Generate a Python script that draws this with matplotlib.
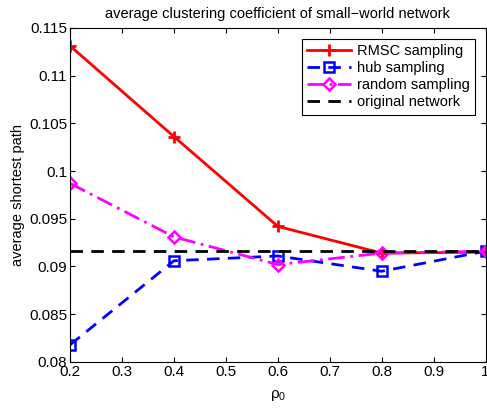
import matplotlib
matplotlib.use("Agg")
import matplotlib.pyplot as plt

plt.rcParams["font.family"] = ["Liberation Sans", "DejaVu Sans"]
plt.rcParams["mathtext.fontset"] = "custom"
plt.rcParams["mathtext.rm"] = "Liberation Sans"

rho0 = [0.2, 0.4, 0.6, 0.8, 1.0]
rmsc = [0.1131, 0.1036, 0.0942, 0.0914, 0.0915]
hub = [0.0818, 0.0906, 0.0911, 0.0895, 0.0916]
rand = [0.0987, 0.0931, 0.0902, 0.0914, 0.0916]
original = 0.0916

fig = plt.figure(figsize=(4.87, 4.09), dpi=100)
ax = fig.add_axes([0.144, 0.115, 0.853, 0.817])

ax.plot(rho0, rmsc, color="red", lw=2, marker="+", ms=9, mew=2, label="RMSC sampling")
ax.plot(rho0, hub, color="blue", lw=2, ls=(0, (4.5, 3)), marker="s", ms=6.5, mew=1.8,
        mfc="none", label="hub sampling")
ax.plot(rho0, rand, color="magenta", lw=2, ls=(0, (6, 2, 1, 2)), marker="D", ms=6.5,
        mew=1.8, mfc="none", label="random sampling")
ax.plot([rho0[0], rho0[-1]], [original, original], color="black", lw=2,
        ls=(0, (4.5, 3)), label="original network")

ax.set_xlim(0.2, 1.0)
ax.set_ylim(0.08, 0.115)
ax.set_xticks([0.2, 0.3, 0.4, 0.5, 0.6, 0.7, 0.8, 0.9, 1.0])
ax.set_xticklabels(["0.2", "0.3", "0.4", "0.5", "0.6", "0.7", "0.8", "0.9", "1"])
ax.set_yticks([0.08, 0.085, 0.09, 0.095, 0.1, 0.105, 0.11, 0.115])
ax.set_yticklabels(["0.08", "0.085", "0.09", "0.095", "0.1", "0.105", "0.11", "0.115"])
ax.tick_params(direction="in", top=True, right=True, labelsize=11, pad=2)
for s in ax.spines.values():
    s.set_linewidth(0.8)

ax.set_xlabel("\u03c1$_0$", fontsize=11, labelpad=7)
ax.set_ylabel("average shortest path", fontsize=10.5, labelpad=3)
ax.set_title("average clustering coefficient of small\u2212world network", fontsize=10.5, pad=7)

leg = ax.legend(loc="upper right", fontsize=10.5, fancybox=False, edgecolor="black",
                framealpha=1, handlelength=3.0, borderpad=0.35, labelspacing=0.22,
                handletextpad=0.4, borderaxespad=0.75)
leg.get_frame().set_linewidth(0.8)

fig.savefig("out.png", dpi=100)
